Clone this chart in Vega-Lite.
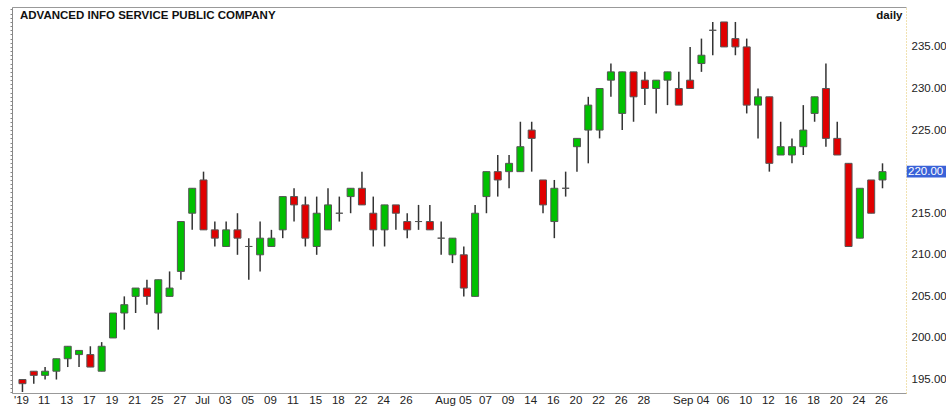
{
"$schema": "https://vega.github.io/schema/vega-lite/v6.json",
"width": 894, "height": 386,
"autosize": {"type": "none"},
"padding": {"left": 12, "top": 7, "right": 40, "bottom": 16},
"background": "white",
"config": {"view": {"stroke": null}, "font": "Liberation Sans"},
"title": {"text": "ADVANCED INFO SERVICE PUBLIC COMPANY", "anchor": "start", "frame": "group", "fontSize": 11.5, "fontWeight": "bold", "color": "#111", "font": "Liberation Sans", "offset": -20, "dx": 8, "baseline": "middle"},
"data": {"values": [
{"d":"2019-06-07","o":195,"h":195,"l":193.5,"c":194.5},
{"d":"2019-06-10","o":196,"h":196,"l":194.5,"c":195.5},
{"d":"2019-06-11","o":195.5,"h":196.5,"l":195,"c":196},
{"d":"2019-06-12","o":196,"h":197.5,"l":195,"c":197.5},
{"d":"2019-06-13","o":197.5,"h":199,"l":196.5,"c":199},
{"d":"2019-06-14","o":198,"h":198.5,"l":196.5,"c":198.5},
{"d":"2019-06-17","o":198,"h":199,"l":196.5,"c":196.5},
{"d":"2019-06-18","o":196,"h":199.5,"l":196,"c":199},
{"d":"2019-06-19","o":200,"h":203,"l":200,"c":203},
{"d":"2019-06-20","o":203,"h":205,"l":201,"c":204},
{"d":"2019-06-21","o":205,"h":206,"l":203,"c":206},
{"d":"2019-06-24","o":206,"h":207,"l":204,"c":205},
{"d":"2019-06-25","o":203,"h":207,"l":201,"c":207},
{"d":"2019-06-26","o":205,"h":208,"l":205,"c":206},
{"d":"2019-06-27","o":208,"h":214,"l":207,"c":214},
{"d":"2019-06-28","o":215,"h":218,"l":213,"c":218},
{"d":"2019-07-01","o":219,"h":220,"l":213,"c":213},
{"d":"2019-07-02","o":213,"h":214,"l":211,"c":212},
{"d":"2019-07-03","o":211,"h":214,"l":211,"c":213},
{"d":"2019-07-04","o":213,"h":215,"l":210,"c":212},
{"d":"2019-07-05","o":211,"h":212,"l":207,"c":211},
{"d":"2019-07-08","o":210,"h":214,"l":208,"c":212},
{"d":"2019-07-09","o":211,"h":213,"l":211,"c":212},
{"d":"2019-07-10","o":213,"h":217,"l":212,"c":217},
{"d":"2019-07-11","o":217,"h":218,"l":214,"c":216},
{"d":"2019-07-12","o":216,"h":217,"l":211,"c":212},
{"d":"2019-07-15","o":211,"h":217,"l":210,"c":215},
{"d":"2019-07-17","o":213,"h":218,"l":213,"c":216},
{"d":"2019-07-18","o":215,"h":217,"l":214,"c":215},
{"d":"2019-07-19","o":217,"h":218,"l":215,"c":218},
{"d":"2019-07-22","o":218,"h":220,"l":216,"c":216},
{"d":"2019-07-23","o":215,"h":217,"l":211,"c":213},
{"d":"2019-07-24","o":213,"h":216,"l":211,"c":216},
{"d":"2019-07-25","o":216,"h":216,"l":213,"c":215},
{"d":"2019-07-26","o":214,"h":215,"l":212,"c":213},
{"d":"2019-07-30","o":214,"h":216,"l":213,"c":214},
{"d":"2019-07-31","o":214,"h":216,"l":213,"c":213},
{"d":"2019-08-01","o":212,"h":214,"l":210,"c":212},
{"d":"2019-08-02","o":210,"h":212,"l":209,"c":212},
{"d":"2019-08-05","o":210,"h":211,"l":205,"c":206},
{"d":"2019-08-06","o":205,"h":216,"l":205,"c":215},
{"d":"2019-08-07","o":217,"h":220,"l":215,"c":220},
{"d":"2019-08-08","o":220,"h":222,"l":217,"c":219},
{"d":"2019-08-09","o":220,"h":222,"l":218,"c":221},
{"d":"2019-08-13","o":220,"h":226,"l":220,"c":223},
{"d":"2019-08-14","o":225,"h":226,"l":220,"c":224},
{"d":"2019-08-15","o":219,"h":219,"l":215,"c":216},
{"d":"2019-08-16","o":214,"h":219,"l":212,"c":218},
{"d":"2019-08-19","o":218,"h":220,"l":217,"c":218},
{"d":"2019-08-20","o":223,"h":224,"l":220,"c":224},
{"d":"2019-08-21","o":225,"h":229,"l":221,"c":228},
{"d":"2019-08-22","o":225,"h":230,"l":224,"c":230},
{"d":"2019-08-23","o":231,"h":233,"l":229,"c":232},
{"d":"2019-08-26","o":227,"h":232,"l":225,"c":232},
{"d":"2019-08-27","o":232,"h":232,"l":226,"c":229},
{"d":"2019-08-28","o":231,"h":232,"l":228,"c":230},
{"d":"2019-08-29","o":230,"h":231,"l":227,"c":231},
{"d":"2019-08-30","o":231,"h":232,"l":228,"c":232},
{"d":"2019-09-02","o":230,"h":232,"l":228,"c":228},
{"d":"2019-09-03","o":231,"h":235,"l":230,"c":230},
{"d":"2019-09-04","o":233,"h":236,"l":232,"c":234},
{"d":"2019-09-05","o":237,"h":238,"l":234,"c":237},
{"d":"2019-09-06","o":238,"h":238,"l":235,"c":235},
{"d":"2019-09-09","o":236,"h":238,"l":234,"c":235},
{"d":"2019-09-10","o":235,"h":236,"l":227,"c":228},
{"d":"2019-09-11","o":228,"h":230,"l":224,"c":229},
{"d":"2019-09-12","o":229,"h":229,"l":220,"c":221},
{"d":"2019-09-13","o":222,"h":226,"l":222,"c":223},
{"d":"2019-09-16","o":222,"h":224,"l":221,"c":223},
{"d":"2019-09-17","o":223,"h":228,"l":222,"c":225},
{"d":"2019-09-18","o":227,"h":229,"l":226,"c":229},
{"d":"2019-09-19","o":230,"h":233,"l":223,"c":224},
{"d":"2019-09-20","o":224,"h":226,"l":222,"c":222},
{"d":"2019-09-23","o":221,"h":221,"l":211,"c":211},
{"d":"2019-09-24","o":212,"h":218,"l":212,"c":218},
{"d":"2019-09-25","o":219,"h":219,"l":215,"c":215},
{"d":"2019-09-26","o":219,"h":221,"l":218,"c":220}
]},
"layer": [
{"mark": {"type": "rule", "color": "#333", "strokeWidth": 1.5},
 "encoding": {
  "x": {"field": "d", "type": "ordinal", "sort": null,
        "scale": {"type": "band", "paddingInner": 0, "paddingOuter": 1.34, "align": 0.212},
        "axis": {"orient": "bottom", "title": null, "grid": false, "ticks": false, "domainColor": "#999", "labelAngle": 0,
                 "labelFontSize": 11.5, "labelColor": "#222", "labelPadding": 1, "labelBaseline": "top", "labelOverlap": false,
                 "values": ["2019-06-07","2019-06-11","2019-06-13","2019-06-17","2019-06-19","2019-06-21","2019-06-25","2019-06-27","2019-07-01","2019-07-03","2019-07-05","2019-07-09","2019-07-11","2019-07-15","2019-07-18","2019-07-22","2019-07-24","2019-07-26","2019-08-05","2019-08-07","2019-08-09","2019-08-14","2019-08-16","2019-08-20","2019-08-22","2019-08-26","2019-08-28","2019-09-04","2019-09-06","2019-09-10","2019-09-12","2019-09-16","2019-09-18","2019-09-20","2019-09-24","2019-09-26"],
                 "labelExpr": "datum.value=='2019-06-07' ? \"'19\" : datum.value=='2019-07-01' ? 'Jul' : datum.value=='2019-08-05' ? 'Aug 05' : datum.value=='2019-09-04' ? 'Sep 04' : slice(datum.value, 8)",
                 "labelAlign": {"condition": {"test": "datum.value=='2019-08-05' || datum.value=='2019-09-04'", "value": "right"}, "value": "center"},
                 "labelOffset": {"condition": {"test": "datum.value=='2019-08-05' || datum.value=='2019-09-04'", "value": 8}, "value": -1}}},
  "y": {"field": "l", "type": "quantitative", "scale": {"domain": [193.38, 239.8], "nice": false, "zero": false},
        "axis": {"orient": "right", "title": null, "grid": false, "ticks": false, "values": [195,200,205,210,215,220,225,230,235], "format": ".2f",
                 "labelExpr": "datum.value == 220 ? '' : datum.label",
                 "domainColor": "#e2c463", "domainDash": [1, 2], "labelFontSize": 11.5, "labelColor": "#222", "labelPadding": 5}},
  "y2": {"field": "h"}
 }},
{"mark": {"type": "bar", "size": 7, "stroke": "#555", "strokeWidth": 1},
 "encoding": {
  "x": {"field": "d", "type": "ordinal", "sort": null,
        "axis": {"orient": "top", "labels": false, "ticks": false, "grid": false, "domainColor": "#999",
                 "title": "daily", "titleFontWeight": "bold", "titleFontSize": 11.5, "titleColor": "#111", "titleBaseline": "middle", "titleAlign": "right", "titleX": 890, "titleY": 8}},
  "y": {"field": "o", "type": "quantitative",
        "axis": {"orient": "left", "title": null, "labels": false, "grid": false, "ticks": true, "tickSize": 2, "tickColor": "#888", "domainColor": "#888", "tickCount": 90}},
  "y2": {"field": "c"},
  "color": {"condition": {"test": "datum.c > datum.o", "value": "#00c000"}, "value": "#e00000"}
 }},
{"transform": [{"filter": "datum.d == '2019-09-26'"}],
 "mark": {"type": "point", "shape": "M-1,-0.3L1,-0.3L1,0.3L-1,0.3Z", "size": 1560, "filled": true, "color": "#3a62d8", "opacity": 1, "x": {"expr": "width + 20.5"}, "clip": false},
 "encoding": {"y": {"field": "c", "type": "quantitative", "axis": null}}},
{"transform": [{"filter": "datum.d == '2019-09-26'"}],
 "mark": {"type": "text", "color": "white", "align": "left", "baseline": "middle", "fontSize": 11.5, "x": {"expr": "width + 2"}, "clip": false},
 "encoding": {"y": {"field": "c", "type": "quantitative", "axis": null}, "text": {"field": "c", "type": "quantitative", "format": ".2f"}}}
],
"resolve": {"axis": {"x": "independent", "y": "independent"}}
}
